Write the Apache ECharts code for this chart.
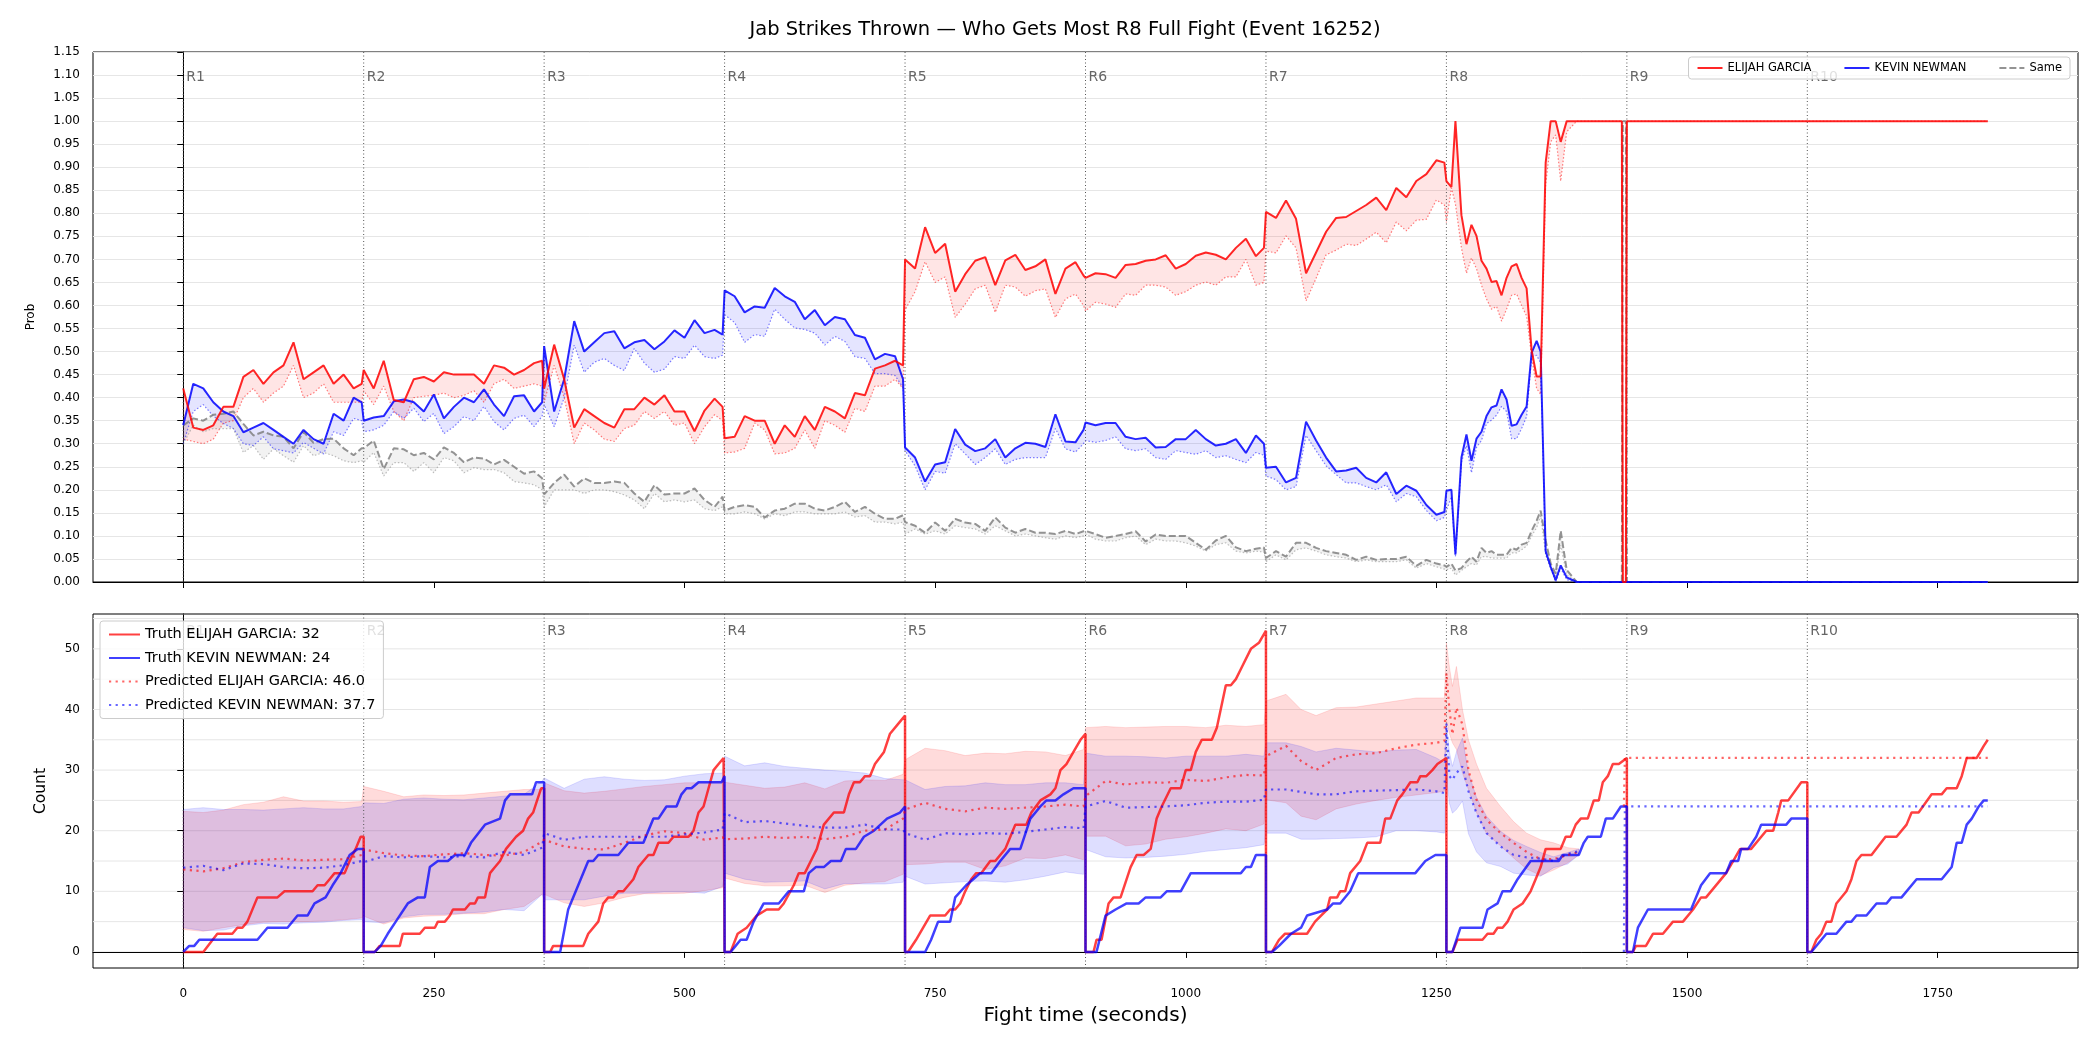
<!DOCTYPE html>
<html>
<head>
<meta charset="utf-8">
<script src="https://cdn.jsdelivr.net/npm/echarts@6/dist/echarts.min.js"></script>
<style>
  html, body { margin: 0; padding: 0; background: #fff; }
  #chart { width: 2100px; height: 1050px; }
</style>
</head>
<body>
<div id="chart"></div>
<script>
// jab strikes: win probability (top) and per-round counts (bottom)

var FONT = 'DejaVu Sans';

// x ticks and round markers
var xTicks = [0, 250, 500, 750, 1000, 1250, 1500, 1750];
var countTicks = [0, 10, 20, 30, 40, 50];
var countGrid = [0, 5, 10, 15, 20, 25, 30, 35, 40, 45, 50, 55];
var roundStarts = [0, 180, 360, 540, 720, 900, 1080, 1260, 1440, 1620];
var roundNames = ['R1', 'R2', 'R3', 'R4', 'R5', 'R6', 'R7', 'R8', 'R9', 'R10'];

// ---- top panel: probability ----
var probT = [0,10,20,30,40,50,60,70,80,90,100,110,120,130,140,150,160,170,178,
  180,190,200,210,220,230,240,250,260,270,280,290,300,310,320,330,340,350,358,
  360,370,380,390,400,410,420,430,440,450,460,470,480,490,500,510,520,530,538,
  540,550,560,570,580,590,600,610,620,630,640,650,660,670,680,690,700,710,718,
  720,730,740,750,760,770,780,790,800,810,820,830,840,850,860,870,880,890,898,
  900,910,920,930,940,950,960,970,980,990,1000,1010,1020,1030,1040,1050,1060,1070,1078,
  1080,1090,1100,1110,1120,1130,1140,1150,1160,1170,1180,1190,1200,1210,1220,1230,1240,1250,1258,
  1260,1265,1269,1275,1280,1285,1290,1295,1300,1305,1310,1315,1320,1325,1330,1335,1340,1345,1350,1354,
  1359,1364,1369,1374,1380,1390,1400,1410,1420,1430,1435,1436,1439,1440,1500,1600,1700,1800];

var probRed = [0.42,0.335,0.33,0.34,0.38,0.38,0.445,0.46,0.43,0.455,0.47,0.52,0.44,0.455,0.47,0.43,0.45,0.42,0.43,
  0.46,0.42,0.48,0.395,0.39,0.44,0.445,0.435,0.455,0.45,0.45,0.45,0.43,0.47,0.465,0.45,0.46,0.475,0.48,
  0.42,0.515,0.44,0.335,0.375,0.36,0.345,0.335,0.375,0.375,0.40,0.385,0.405,0.37,0.37,0.327,0.372,0.398,0.38,
  0.312,0.315,0.36,0.35,0.35,0.30,0.34,0.315,0.36,0.33,0.38,0.37,0.355,0.41,0.405,0.463,0.47,0.48,0.47,
  0.70,0.68,0.77,0.714,0.734,0.63,0.668,0.697,0.705,0.644,0.698,0.71,0.677,0.685,0.70,0.625,0.68,0.694,0.665,
  0.66,0.67,0.668,0.66,0.688,0.69,0.697,0.70,0.709,0.68,0.69,0.708,0.715,0.71,0.70,0.725,0.745,0.707,0.725,
  0.803,0.79,0.828,0.788,0.67,0.715,0.76,0.79,0.792,0.805,0.818,0.834,0.807,0.855,0.835,0.87,0.885,0.915,0.91,
  0.87,0.857,1.0,0.796,0.733,0.775,0.751,0.697,0.68,0.651,0.653,0.622,0.66,0.685,0.69,0.66,0.637,0.503,0.446,0.446,
  0.91,1.0,1.0,0.955,1.0,1.0,1.0,1.0,1.0,1.0,1.0,0,0,1.0,1.0,1.0,1.0,1.0];

var probRedLow = [0.31,0.305,0.30,0.31,0.345,0.35,0.40,0.42,0.39,0.41,0.425,0.47,0.40,0.41,0.43,0.39,0.39,0.39,0.39,
  0.415,0.385,0.425,0.37,0.35,0.40,0.403,0.405,0.41,0.40,0.405,0.415,0.39,0.43,0.44,0.42,0.425,0.43,0.425,
  0.39,0.47,0.40,0.30,0.345,0.33,0.31,0.305,0.333,0.34,0.37,0.355,0.37,0.34,0.345,0.30,0.337,0.363,0.35,
  0.28,0.282,0.29,0.345,0.33,0.278,0.28,0.29,0.33,0.29,0.35,0.34,0.325,0.377,0.37,0.425,0.425,0.44,0.42,
  0.59,0.63,0.695,0.65,0.662,0.574,0.603,0.636,0.644,0.585,0.644,0.64,0.62,0.632,0.636,0.574,0.614,0.625,0.60,
  0.588,0.607,0.603,0.596,0.625,0.622,0.644,0.644,0.64,0.622,0.63,0.644,0.651,0.644,0.662,0.662,0.70,0.644,0.65,
  0.718,0.714,0.751,0.725,0.61,0.659,0.71,0.72,0.733,0.73,0.744,0.759,0.736,0.781,0.762,0.785,0.787,0.829,0.818,
  0.78,0.855,0.82,0.725,0.67,0.703,0.68,0.644,0.614,0.592,0.598,0.566,0.592,0.622,0.625,0.60,0.577,0.489,0.42,0.407,
  0.862,0.955,0.97,0.87,0.977,1.0,1.0,1.0,1.0,1.0,1.0,0,0,1.0,1.0,1.0,1.0,1.0];

var probBlue = [0.34,0.43,0.42,0.39,0.37,0.36,0.325,0.335,0.345,0.33,0.315,0.30,0.33,0.31,0.30,0.365,0.35,0.40,0.39,
  0.35,0.357,0.36,0.392,0.396,0.39,0.37,0.407,0.355,0.38,0.40,0.39,0.418,0.385,0.36,0.403,0.405,0.37,0.39,
  0.512,0.37,0.44,0.566,0.50,0.52,0.54,0.544,0.507,0.52,0.525,0.505,0.522,0.546,0.53,0.568,0.54,0.547,0.537,
  0.633,0.62,0.585,0.598,0.595,0.638,0.62,0.608,0.57,0.59,0.557,0.575,0.57,0.536,0.53,0.483,0.495,0.49,0.44,
  0.292,0.27,0.218,0.255,0.26,0.332,0.298,0.284,0.29,0.31,0.27,0.29,0.302,0.30,0.293,0.364,0.305,0.303,0.33,
  0.346,0.34,0.345,0.345,0.315,0.31,0.313,0.292,0.293,0.31,0.31,0.33,0.31,0.296,0.30,0.31,0.28,0.318,0.30,
  0.248,0.25,0.216,0.226,0.348,0.307,0.27,0.24,0.242,0.248,0.226,0.216,0.238,0.191,0.209,0.198,0.167,0.146,0.152,
  0.198,0.20,0.06,0.27,0.32,0.263,0.311,0.326,0.36,0.379,0.383,0.418,0.396,0.339,0.342,0.363,0.381,0.497,0.523,0.50,
  0.067,0.033,0.004,0.036,0.01,0,0,0,0,0,0,0,0,0,0,0,0,0];

var probBlueLow = [0.30,0.37,0.385,0.36,0.344,0.333,0.30,0.296,0.315,0.289,0.285,0.28,0.303,0.29,0.278,0.326,0.318,0.355,0.35,
  0.326,0.33,0.34,0.37,0.355,0.377,0.348,0.366,0.322,0.337,0.359,0.35,0.381,0.348,0.33,0.355,0.362,0.337,0.36,
  0.385,0.337,0.40,0.514,0.455,0.477,0.485,0.47,0.459,0.507,0.475,0.455,0.462,0.489,0.485,0.514,0.489,0.485,0.492,
  0.58,0.563,0.52,0.537,0.533,0.592,0.57,0.551,0.548,0.54,0.514,0.533,0.522,0.489,0.485,0.452,0.452,0.448,0.422,
  0.285,0.252,0.20,0.24,0.236,0.30,0.278,0.255,0.27,0.289,0.255,0.266,0.27,0.27,0.27,0.333,0.289,0.282,0.30,
  0.307,0.303,0.307,0.315,0.289,0.285,0.289,0.27,0.266,0.285,0.281,0.277,0.285,0.27,0.274,0.266,0.259,0.281,0.275,
  0.23,0.222,0.20,0.207,0.318,0.285,0.252,0.233,0.215,0.215,0.207,0.20,0.211,0.174,0.192,0.185,0.155,0.133,0.14,
  0.155,0.185,0.055,0.26,0.296,0.237,0.292,0.307,0.344,0.351,0.362,0.381,0.37,0.311,0.311,0.333,0.359,0.489,0.492,0.475,
  0.06,0.03,0,0.03,0.005,0,0,0,0,0,0,0,0,0,0,0,0,0];

var probSame = [0.34,0.355,0.35,0.363,0.365,0.37,0.343,0.318,0.326,0.318,0.315,0.29,0.326,0.302,0.31,0.311,0.29,0.275,0.29,
  0.29,0.307,0.245,0.29,0.288,0.275,0.28,0.266,0.292,0.28,0.26,0.27,0.268,0.255,0.265,0.25,0.235,0.24,0.225,
  0.19,0.215,0.233,0.207,0.225,0.215,0.215,0.218,0.215,0.192,0.174,0.21,0.19,0.192,0.192,0.203,0.178,0.163,0.185,
  0.155,0.163,0.167,0.163,0.14,0.155,0.159,0.17,0.17,0.159,0.155,0.163,0.174,0.152,0.163,0.148,0.137,0.137,0.145,
  0.13,0.122,0.107,0.129,0.111,0.137,0.129,0.126,0.111,0.14,0.118,0.107,0.115,0.107,0.107,0.104,0.111,0.104,0.11,
  0.111,0.104,0.096,0.10,0.104,0.11,0.088,0.103,0.10,0.10,0.10,0.085,0.07,0.09,0.10,0.075,0.067,0.072,0.075,
  0.052,0.067,0.055,0.085,0.085,0.074,0.067,0.063,0.059,0.048,0.055,0.048,0.05,0.05,0.055,0.035,0.048,0.04,0.036,
  0.033,0.04,0.025,0.03,0.044,0.055,0.044,0.074,0.063,0.067,0.059,0.059,0.059,0.074,0.07,0.081,0.085,0.111,0.133,0.155,
  0.09,0.04,0.018,0.111,0.026,0,0,0,0,0,0,1.0,1.0,0,0,0,0,0];

var probSameLow = [0.30,0.34,0.326,0.333,0.333,0.333,0.281,0.296,0.266,0.289,0.274,0.26,0.296,0.274,0.281,0.274,0.263,0.259,0.263,
  0.26,0.281,0.23,0.259,0.259,0.24,0.259,0.237,0.27,0.263,0.237,0.248,0.244,0.244,0.237,0.218,0.215,0.211,0.20,
  0.163,0.20,0.20,0.20,0.192,0.20,0.20,0.196,0.189,0.178,0.159,0.192,0.174,0.178,0.174,0.178,0.159,0.155,0.163,
  0.148,0.148,0.152,0.148,0.137,0.148,0.144,0.152,0.152,0.148,0.148,0.148,0.152,0.141,0.144,0.13,0.13,0.126,0.13,
  0.104,0.115,0.104,0.111,0.104,0.122,0.118,0.115,0.104,0.122,0.111,0.10,0.104,0.10,0.096,0.093,0.10,0.096,0.10,
  0.104,0.093,0.089,0.089,0.096,0.10,0.081,0.093,0.089,0.089,0.085,0.078,0.067,0.081,0.085,0.067,0.063,0.067,0.065,
  0.044,0.059,0.048,0.07,0.074,0.067,0.059,0.055,0.052,0.044,0.048,0.044,0.044,0.044,0.048,0.03,0.04,0.033,0.028,
  0.026,0.03,0.015,0.025,0.033,0.04,0.037,0.055,0.055,0.052,0.052,0.052,0.052,0.063,0.063,0.07,0.078,0.10,0.118,0.144,
  0.06,0.03,0.01,0.08,0.015,0,0,0,0,0,0,1.0,1.0,0,0,0,0,0];

// ---- bottom panel: counts ----
var truthRedT = [0,20,34,49,54,59,64,74,94,101,129,134,141,146,151,161,166,172,177,180,
  180,191,196,216,219,236,241,251,254,261,266,269,281,286,291,294,301,306,311,316,322,332,339,344,349,353,357,360,
  360,366,369,399,404,414,419,424,429,434,439,444,449,454,459,464,469,474,484,489,504,509,514,519,524,529,534,539,540,
  540,546,553,562,572,582,594,599,609,614,620,626,632,639,649,659,664,669,675,680,685,690,699,705,715,720,
  720,723,731,745,760,765,770,775,780,786,791,796,805,810,820,825,830,841,846,855,865,870,875,881,888,895,900,
  900,908,911,916,923,928,935,945,951,958,965,971,976,985,995,1000,1005,1010,1016,1026,1031,1040,1045,1050,1056,1065,1073,1080,
  1080,1086,1093,1099,1121,1129,1141,1144,1151,1154,1159,1164,1174,1181,1194,1199,1204,1211,1216,1224,1231,1234,1240,1246,1251,1260,
  1260,1266,1271,1296,1301,1307,1311,1316,1321,1327,1336,1344,1349,1354,1359,1374,1379,1384,1389,1394,1401,1407,1412,1416,1421,1426,1432,1440,
  1440,1446,1449,1459,1466,1476,1486,1496,1506,1514,1519,1539,1546,1553,1564,1579,1586,1591,1594,1601,1614,1620,
  1620,1624,1629,1634,1639,1644,1649,1659,1664,1669,1674,1684,1698,1709,1719,1724,1731,1744,1754,1759,1769,1774,1779,1789,1796,1800];
var truthRed = [0,0,3,3,4,4,5,9,9,10,10,11,11,12,13,13,15,17,19,19,
  0,0,1,1,3,3,4,4,5,5,6,7,7,8,8,9,9,13,14,15,17,19,20,22,23,25,27,27,
  0,0,1,1,3,5,8,9,9,10,10,11,12,14,15,16,16,18,18,19,19,20,23,24,27,30,31,32,32,
  0,0,3,4,6,7,7,8,11,13,13,15,17,21,23,23,26,28,28,29,29,31,33,36,38,39,
  0,0,2,6,6,7,7,8,10,12,13,13,15,15,17,19,21,21,23,25,26,27,30,31,33,35,36,
  0,0,2,2,8,9,9,14,16,16,17,22,24,27,27,30,30,33,35,35,37,44,44,45,47,50,51,53,
  0,0,2,3,3,5,7,9,9,10,10,13,15,18,18,22,22,25,26,28,28,29,29,30,31,32,
  0,0,2,2,3,3,4,4,5,7,8,10,12,14,17,17,19,19,21,22,22,25,25,28,29,31,31,32,
  0,0,1,1,3,3,5,5,7,9,9,13,15,17,17,20,20,23,25,25,28,28,
  0,0,2,3,5,5,8,10,12,15,16,16,19,19,21,23,23,26,26,27,27,29,32,32,34,35];

var truthBlueT = [0,6,11,16,74,84,104,114,124,131,142,149,157,166,174,180,
  180,191,197,204,212,224,234,241,246,254,264,271,281,287,301,316,321,326,348,352,360,
  360,376,384,394,404,409,414,434,444,459,469,474,482,492,497,502,507,514,537,540,
  540,546,551,556,562,569,579,594,604,619,624,631,639,646,656,661,671,679,689,702,715,720,
  720,740,746,753,765,770,781,788,795,806,815,825,835,845,855,861,870,878,888,900,
  900,911,920,930,941,953,960,975,981,995,1005,1055,1060,1065,1070,1080,
  1080,1086,1093,1105,1115,1121,1141,1147,1154,1164,1172,1229,1239,1249,1260,
  1260,1266,1274,1296,1301,1311,1316,1324,1331,1344,1372,1376,1392,1397,1401,1414,1419,1426,1434,1440,
  1440,1446,1451,1461,1504,1514,1523,1539,1544,1551,1554,1561,1569,1574,1599,1604,1620,
  1620,1624,1639,1649,1659,1664,1669,1679,1689,1699,1704,1714,1729,1754,1764,1769,1774,1779,1784,1791,1796,1800];
var truthBlue = [0,1,1,2,2,4,4,6,6,8,9,11,13,16,17,17,
  0,0,1,3,5,8,9,9,14,15,15,16,16,18,21,22,25,26,26,28,28,
  0,0,7,11,15,15,16,16,18,18,22,22,24,24,26,27,27,28,28,29,
  0,0,1,2,2,5,8,8,10,10,13,14,14,15,15,17,17,19,20,22,23,24,
  0,0,2,5,5,9,11,12,13,13,15,17,17,22,24,25,25,26,27,27,
  0,0,6,7,8,8,9,9,10,10,13,13,14,14,16,16,
  0,0,1,3,4,6,7,8,8,10,13,13,15,16,16,
  0,0,4,4,7,8,10,10,12,15,15,16,16,18,19,19,22,22,24,24,
  0,0,4,7,7,11,13,13,15,15,17,17,19,21,21,22,22,
  0,0,3,3,5,5,6,6,8,8,9,9,12,12,14,18,18,21,22,24,25,25];

var predT = [0,20,40,60,80,100,120,140,160,178,
  180,200,220,240,260,280,300,320,340,358,
  360,380,400,420,440,460,480,500,520,538,
  540,560,580,600,620,640,660,680,700,718,
  720,740,760,780,800,820,840,860,880,898,
  900,920,940,960,980,1000,1020,1040,1060,1078,
  1080,1100,1115,1130,1150,1170,1190,1210,1230,1250,1258,
  1260,1263,1266,1270,1276,1282,1290,1300,1314,1327,1340,1354,1367,1381,1392,
  1400,1437,1438,1800];
var predRed = [13.6,13.3,13.8,14.8,15.2,15.4,15.1,15.2,15.3,16.0,
  16.9,16.3,15.9,15.8,16.1,16.3,16.0,15.9,16.5,18.2,
  18.5,17.4,17.0,16.9,18.0,19.2,19.9,19.6,18.5,18.9,
  18.6,18.7,19.0,18.8,19.0,18.6,19.0,20.0,20.2,22.0,
  23.5,24.6,23.6,23.2,23.8,23.6,23.8,24.0,24.3,24.0,
  25.7,28.2,27.6,28.0,27.9,28.4,28.2,28.8,29.2,29.1,
  32.3,34.0,31.5,30.0,32.0,32.6,32.8,33.6,34.2,34.5,34.8,
  46.0,40.0,35.9,40.3,37.5,30.0,25.1,21.8,19.6,18.0,16.5,15.3,15.3,16.0,16.5,
  null,24,32,32];
var predBlue = [13.9,14.2,13.5,14.6,14.5,14.0,13.8,13.9,14.3,15.0,
  14.8,15.8,15.6,15.8,15.6,15.8,15.6,16.5,16.0,17.2,
  19.6,18.5,19.0,19.0,19.0,19.0,19.0,19.4,19.7,20.2,
  22.9,21.4,21.6,21.2,20.8,20.5,20.5,21.0,20.2,20.2,
  19.6,18.5,19.6,19.4,19.6,19.5,19.8,20.2,20.6,20.4,
  24.0,24.9,23.8,23.9,24.0,24.2,24.6,24.8,24.8,25.1,
  26.8,26.8,26.4,26.0,26.0,26.5,26.6,26.7,26.8,26.5,26.2,
  37.7,29.0,28.4,29.5,30.6,26.5,22.9,19.6,17.4,16.0,15.6,15.4,15.0,16.2,16.6,
  null,0,24,24];
var predRedHigh = [23.2,23.0,23.4,24.3,24.7,25.6,24.9,24.9,24.7,24.8,
  27.3,26.5,25.6,25.9,25.8,25.9,26.2,26.5,26.8,26.8,
  27.9,26.6,26.2,26.5,26.9,27.3,27.6,27.9,27.9,28.2,
  28.0,27.5,27.0,27.2,27.9,26.9,28.2,28.4,28.3,29.3,
  31.7,33.6,33.2,32.4,32.8,32.7,33.1,33.0,32.4,33.4,
  37.0,37.2,37.0,37.1,37.2,37.2,37.0,37.4,37.2,37.5,
  41.4,42.5,40.0,39.0,40.3,40.4,40.9,41.4,41.9,41.9,41.9,
  51.0,47.0,43.8,47.1,40.0,35.0,31.0,27.0,24.0,21.5,19.6,18.5,18.0,17.2,17.0,
  null,null,null,null];
var predRedLow = [3.7,3.4,4.0,4.5,4.9,5.0,5.0,5.1,5.3,5.6,
  5.9,4.6,5.6,5.9,6.0,6.3,6.3,7.0,7.5,9.5,
  9.5,8.1,7.5,8.1,9.0,9.6,9.6,9.7,10.1,10.6,
  12.2,11.3,10.9,10.9,11.0,9.8,11.0,11.4,11.6,12.8,
  14.4,14.5,14.8,14.8,13.6,14.2,15.5,15.4,16.0,15.2,
  19.1,19.1,17.5,17.8,18.6,19.0,19.6,20.3,20.0,21.1,
  25.1,24.6,22.4,21.8,23.6,24.4,25.0,25.5,25.9,26.3,26.5,
  38.3,36.0,34.5,33.4,29.5,26.8,23.0,19.5,17.5,15.5,13.7,12.6,13.5,14.7,16.0,
  null,null,null,null];
var predBlueHigh = [23.5,23.8,23.5,23.5,23.4,23.6,23.8,23.6,23.6,24.0,
  24.6,24.5,25.2,25.4,25.2,25.1,25.4,25.7,26.0,28.2,
  28.7,27.0,28.5,28.9,28.5,28.3,28.4,29.0,29.4,29.5,
  32.3,30.7,31.2,30.6,30.3,30.0,29.8,29.5,28.6,28.4,
  28.4,26.8,27.3,27.4,27.9,27.6,27.6,27.9,27.9,27.6,
  32.8,32.3,32.3,32.2,32.0,32.3,32.3,32.3,32.6,32.3,
  34.5,34.5,33.9,33.0,33.6,33.3,33.0,33.3,33.4,32.0,31.2,
  37.8,33.0,30.6,33.0,35.3,29.5,25.5,22.4,19.9,18.4,17.4,16.4,15.7,16.4,17.0,
  null,null,null,null];
var predBlueLow = [4.0,3.5,3.6,4.3,4.7,4.6,4.8,4.9,5.2,5.3,
  5.0,4.8,5.8,6.2,6.2,6.4,6.6,7.0,6.8,9.5,
  8.6,8.6,8.6,9.2,9.7,9.7,9.9,9.9,9.7,10.8,
  13.0,12.0,11.5,11.6,11.7,10.4,11.3,11.2,11.2,11.5,
  12.5,11.2,11.4,11.6,11.7,11.5,11.9,12.5,13.2,12.8,
  16.9,15.7,15.5,15.6,15.8,16.1,16.6,16.9,17.2,17.7,
  19.6,19.6,18.6,18.6,18.7,18.8,19.0,20.0,20.0,19.8,19.6,
  29.0,24.5,22.9,23.5,24.9,19.5,16.5,14.7,14.1,13.0,12.7,12.5,13.9,14.5,16.0,
  null,null,null,null];

// ---- helpers ----
function zip(ts, vs) {
  return ts.map(function (t, i) { return [t, vs[i] == null ? '-' : vs[i]]; });
}

function line(name, idx, ts, vs, color, width, type, z) {
  return {
    name: name, type: 'line', xAxisIndex: idx, yAxisIndex: idx,
    data: zip(ts, vs), symbol: 'none', showSymbol: false, silent: true,
    connectNulls: false, z: z,
    lineStyle: { color: color, width: width, type: type || 'solid', cap: 'butt' },
    itemStyle: { color: color }
  };
}

// filled band between two lines, split where values are missing
function band(idx, ts, lo, hi, fill, stroke) {
  return {
    type: 'custom', xAxisIndex: idx, yAxisIndex: idx, silent: true, z: 1,
    data: [[0, 0]],
    renderItem: function (params, api) {
      var kids = [], seg = [];
      function flush() {
        if (seg.length > 1) {
          var up = seg.map(function (i) { return api.coord([ts[i], hi[i]]); });
          var dn = seg.slice().reverse().map(function (i) { return api.coord([ts[i], lo[i]]); });
          kids.push({ type: 'polygon', shape: { points: up.concat(dn) },
            style: { fill: fill, stroke: stroke || null, lineWidth: stroke ? 1 : 0 } });
        }
        seg = [];
      }
      for (var i = 0; i < ts.length; i++) {
        if (hi[i] == null || lo[i] == null) flush(); else seg.push(i);
      }
      flush();
      return { type: 'group', children: kids };
    }
  };
}

// dotted round separators with R labels
function rounds(idx, yMin, yMax, yLabel) {
  return {
    type: 'custom', xAxisIndex: idx, yAxisIndex: idx, silent: true, z: 3,
    data: roundStarts.map(function (t, i) { return [t, i]; }),
    renderItem: function (params, api) {
      var t = api.value(0);
      var a = api.coord([t, yMax]), b = api.coord([t, yMin]), c = api.coord([t, yLabel]);
      return { type: 'group', children: [
        { type: 'line', shape: { x1: a[0], y1: a[1], x2: b[0], y2: b[1] },
          style: { stroke: '#555', lineWidth: 1, lineDash: [1, 2.5] } },
        { type: 'text', x: a[0] + 3, y: c[1],
          style: { text: roundNames[params.dataIndex], fill: '#666', fontSize: 14,
                   fontFamily: FONT, align: 'left', verticalAlign: 'middle' } }
      ]};
    }
  };
}

function hgrid(idx, vals) {
  return {
    type: 'custom', xAxisIndex: idx, yAxisIndex: idx, silent: true, z: 0,
    data: vals.map(function (v) { return [0, v]; }),
    renderItem: function (params, api) {
      var v = api.value(1);
      var a = api.coord([-90, v]), b = api.coord([1890, v]);
      return { type: 'line', shape: { x1: a[0], y1: a[1], x2: b[0], y2: b[1] },
               style: { stroke: '#e6e6e6', lineWidth: 1 } };
    }
  };
}

var RED = 'rgba(255,0,0,0.85)', BLUE = 'rgba(0,0,255,0.85)', GRAY = 'rgba(128,128,128,0.85)';

var chart = echarts.init(document.getElementById('chart'), null, { renderer: 'canvas' });

var axisTxt = { color: '#000', fontSize: 12, fontFamily: FONT };

var option = {
  animation: false,
  backgroundColor: '#fff',
  graphic: [{
    type: 'text', x: 1065, y: 30,
    style: { text: 'Jab Strikes Thrown \u2014 Who Gets Most R8 Full Fight (Event 16252)',
             fill: '#000', fontSize: 19.5, fontFamily: FONT, align: 'center', verticalAlign: 'middle' }
  }],
  grid: [
    { left: 93, right: 22, top: 52, height: 530, show: true, borderColor: '#000', borderWidth: 1 },
    { left: 93, right: 22, top: 614, height: 354, show: true, borderColor: '#000', borderWidth: 1 }
  ],
  xAxis: [
    { type: 'value', gridIndex: 0, min: -90, max: 1890,
      axisLine: { lineStyle: { color: '#000' } },
      axisTick: { customValues: xTicks, length: 6, lineStyle: { color: '#000' } },
      axisLabel: { show: false }, splitLine: { show: false } },
    { type: 'value', gridIndex: 1, min: -90, max: 1890,
      axisLine: { lineStyle: { color: '#000' } },
      axisTick: { customValues: xTicks, length: 6, lineStyle: { color: '#000' } },
      axisLabel: Object.assign({ customValues: xTicks, margin: 20,
        formatter: function (v) { return String(v); } }, axisTxt),
      splitLine: { show: false },
      name: 'Fight time (seconds)', nameLocation: 'middle', nameGap: 38,
      nameTextStyle: { fontSize: 20, fontFamily: FONT, color: '#000' } }
  ],
  yAxis: [
    { type: 'value', gridIndex: 0, min: 0, max: 1.15, interval: 0.05,
      axisLine: { show: true, lineStyle: { color: '#000' } },
      axisTick: { show: true, length: 6, lineStyle: { color: '#000' } },
      axisLabel: Object.assign({ formatter: function (v) { return v.toFixed(2); }, margin: 13 }, axisTxt),
      splitLine: { show: true, lineStyle: { color: '#e6e6e6', width: 1 } },
      name: 'Prob', nameLocation: 'middle', nameGap: 56,
      nameTextStyle: { fontSize: 12, fontFamily: FONT, color: '#000' } },
    { type: 'value', gridIndex: 1, min: -2.65, max: 55.75,
      axisLine: { show: true, lineStyle: { color: '#000' } },
      axisTick: { show: true, customValues: countTicks, length: 6, lineStyle: { color: '#000' } },
      axisLabel: Object.assign({ customValues: countTicks, margin: 13 }, axisTxt),
      splitLine: { show: false },
      name: 'Count', nameLocation: 'middle', nameGap: 44,
      nameTextStyle: { fontSize: 15.5, fontFamily: FONT, color: '#000' } }
  ],
  legend: [
    { data: ['ELIJAH GARCIA', 'KEVIN NEWMAN', 'Same'], orient: 'horizontal',
      right: 30, top: 57, itemWidth: 25, itemHeight: 12, itemGap: 32,
      itemStyle: { opacity: 0 },
      textStyle: { fontSize: 11.5, fontFamily: FONT, color: '#000' },
      backgroundColor: 'rgba(255,255,255,0.8)', borderColor: '#ccc', borderWidth: 1,
      borderRadius: 3, padding: [5, 8] },
    { data: ['Truth ELIJAH GARCIA: 32', 'Truth KEVIN NEWMAN: 24',
             'Predicted ELIJAH GARCIA: 46.0', 'Predicted KEVIN NEWMAN: 37.7'],
      orient: 'vertical', left: 100, top: 621, itemWidth: 31, itemHeight: 14, itemGap: 8.5,
      itemStyle: { opacity: 0 },
      textStyle: { fontSize: 14.5, fontFamily: FONT, color: '#000' },
      backgroundColor: 'rgba(255,255,255,0.8)', borderColor: '#ccc', borderWidth: 1,
      borderRadius: 3, padding: [6, 8] }
  ],
  series: [
    // top
    band(0, probT, probRedLow, probRed, 'rgba(255,0,0,0.1)'),
    band(0, probT, probBlueLow, probBlue, 'rgba(0,0,255,0.1)'),
    band(0, probT, probSameLow, probSame, 'rgba(128,128,128,0.1)'),
    line('red low', 0, probT, probRedLow, 'rgba(255,0,0,0.5)', 1.2, [1.5, 2], 2),
    line('blue low', 0, probT, probBlueLow, 'rgba(0,0,255,0.5)', 1.2, [1.5, 2], 2),
    line('same low', 0, probT, probSameLow, 'rgba(128,128,128,0.5)', 1.2, [1.5, 2], 2),
    line('Same', 0, probT, probSame, GRAY, 2, [7, 3], 4),
    line('KEVIN NEWMAN', 0, probT, probBlue, BLUE, 2, 'solid', 5),
    line('ELIJAH GARCIA', 0, probT, probRed, RED, 2, 'solid', 5),
    rounds(0, 0, 1.15, 1.095),
    // bottom
    hgrid(1, countGrid),
    band(1, predT, predRedLow, predRedHigh, 'rgba(255,0,0,0.14)', 'rgba(255,0,0,0.12)'),
    band(1, predT, predBlueLow, predBlueHigh, 'rgba(0,0,255,0.13)', 'rgba(0,0,255,0.12)'),
    line('Truth ELIJAH GARCIA: 32', 1, truthRedT, truthRed, 'rgba(255,0,0,0.75)', 2.5, 'solid', 4),
    line('Truth KEVIN NEWMAN: 24', 1, truthBlueT, truthBlue, 'rgba(0,0,255,0.75)', 2.5, 'solid', 4),
    line('Predicted ELIJAH GARCIA: 46.0', 1, predT, predRed, 'rgba(255,0,0,0.6)', 2.2, [2.2, 4.4], 5),
    line('Predicted KEVIN NEWMAN: 37.7', 1, predT, predBlue, 'rgba(0,0,255,0.6)', 2.2, [2.2, 4.4], 5),
    rounds(1, -2.65, 55.75, 52.9)
  ]
};

chart.setOption(option);
window.addEventListener('resize', chart.resize);
</script>
</body>
</html>
